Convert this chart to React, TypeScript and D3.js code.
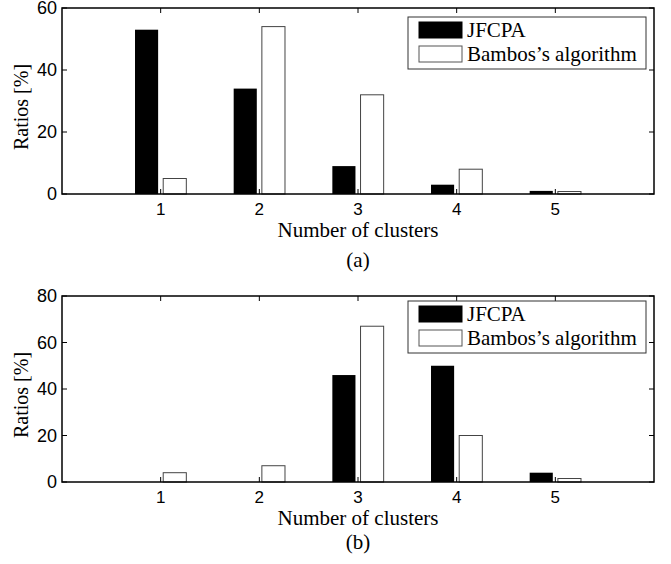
//@ts-nocheck
import { useEffect, useRef } from 'react';
import * as d3 from 'd3';

// data
const clusters = [1, 2, 3, 4, 5];
const seriesNames = ['JFCPA', "Bambos\u2019s algorithm"];
const jfcpaA = [53, 34, 9, 3, 1];
const bambosA = [5, 54, 32, 8, 0.8];
const jfcpaB = [0, 0, 46, 50, 4];
const bambosB = [4, 7, 67, 20, 1.5];
const yTicksA = [0, 20, 40, 60];
const yTicksB = [0, 20, 40, 60, 80];

const panels = [
    { top: 8, bottom: 194, yMax: 60, yTicks: yTicksA, values: [jfcpaA, bambosA], caption: '(a)', captionDy: 73, legendDy: 9 },
    { top: 296, bottom: 482, yMax: 80, yTicks: yTicksB, values: [jfcpaB, bambosB], caption: '(b)', captionDy: 67, legendDy: 5 },
];

const App = () => {
    const svgRef = useRef();

    useEffect(() => {
        const svg = d3.select(svgRef.current);
        svg.selectAll('*').remove();

        const left = 62;
        const right = 654;
        const sans = 'Liberation Sans, Arial, sans-serif';
        const serif = 'Liberation Serif, Times New Roman, serif';

        const x = d3.scaleLinear().domain([0, 6]).range([left, right]);
        const step = x(1) - x(0);
        // offsets of the two bars inside a group
        const sub = d3.scaleBand().domain(seriesNames).range([-0.26 * step, 0.26 * step]).paddingInner(0.18);
        const colors = ['#000', '#fff'];

        panels.forEach((p) => {
            const y = d3.scaleLinear().domain([0, p.yMax]).range([p.bottom, p.top]);
            const g = svg.append('g');

            // bars
            p.values.forEach((vals, si) => {
                g.selectAll(null)
                    .data(vals)
                    .enter()
                    .append('rect')
                    .attr('x', (d, i) => x(clusters[i]) + sub(seriesNames[si]))
                    .attr('y', (d) => y(d))
                    .attr('width', sub.bandwidth())
                    .attr('height', (d) => y(0) - y(d))
                    .attr('fill', colors[si])
                    .attr('stroke', si === 0 ? '#000' : '#444')
                    .attr('stroke-width', si === 0 ? 0 : 1);
            });

            // inward ticks on all four sides
            const tl = 5;
            clusters.forEach((c) => {
                g.append('line').attr('x1', x(c)).attr('x2', x(c)).attr('y1', p.bottom).attr('y2', p.bottom - tl).attr('stroke', '#000');
                g.append('line').attr('x1', x(c)).attr('x2', x(c)).attr('y1', p.top).attr('y2', p.top + tl).attr('stroke', '#000');
                g.append('text')
                    .attr('x', x(c))
                    .attr('y', p.bottom + 21)
                    .attr('text-anchor', 'middle')
                    .style('font-family', sans)
                    .style('font-size', '17px')
                    .text(c);
            });
            p.yTicks.forEach((t) => {
                g.append('line').attr('x1', left).attr('x2', left + tl).attr('y1', y(t)).attr('y2', y(t)).attr('stroke', '#000');
                g.append('line').attr('x1', right).attr('x2', right - tl).attr('y1', y(t)).attr('y2', y(t)).attr('stroke', '#000');
                g.append('text')
                    .attr('x', left - 5)
                    .attr('y', y(t))
                    .attr('dy', '0.36em')
                    .attr('text-anchor', 'end')
                    .style('font-family', sans)
                    .style('font-size', '18px')
                    .text(t);
            });

            // frame
            g.append('rect')
                .attr('x', left)
                .attr('y', p.top)
                .attr('width', right - left)
                .attr('height', p.bottom - p.top)
                .attr('fill', 'none')
                .attr('stroke', '#000')
                .attr('stroke-width', 1.5);

            // axis titles
            g.append('text')
                .attr('x', (left + right) / 2)
                .attr('y', p.bottom + 43)
                .attr('text-anchor', 'middle')
                .style('font-family', serif)
                .style('font-size', '21px')
                .text('Number of clusters');
            g.append('text')
                .attr('transform', `translate(28, ${(p.top + p.bottom) / 2 + 6}) rotate(-90)`)
                .attr('text-anchor', 'middle')
                .style('font-family', serif)
                .style('font-size', '20px')
                .text('Ratios [%]');
            g.append('text')
                .attr('x', (left + right) / 2)
                .attr('y', p.bottom + p.captionDy)
                .attr('text-anchor', 'middle')
                .style('font-family', serif)
                .style('font-size', '21px')
                .text(p.caption);

            // legend
            const lx = 408;
            const ly = p.top + p.legendDy;
            const legend = g.append('g').attr('transform', `translate(${lx}, ${ly})`);
            legend.append('rect')
                .attr('width', 238)
                .attr('height', 52)
                .attr('fill', '#fff')
                .attr('stroke', '#333')
                .attr('stroke-width', 1);
            seriesNames.forEach((name, i) => {
                legend.append('rect')
                    .attr('x', 11)
                    .attr('y', 5 + i * 24)
                    .attr('width', 43)
                    .attr('height', 16)
                    .attr('fill', colors[i])
                    .attr('stroke', i === 0 ? '#000' : '#555')
                    .attr('stroke-width', 1);
                legend.append('text')
                    .attr('x', 59)
                    .attr('y', 13 + i * 24)
                    .attr('dy', '0.35em')
                    .style('font-family', serif)
                    .style('font-size', '21px')
                    .text(name);
            });
        });
    }, []);

    return (
        <svg ref={svgRef} width={671} height={564} style={{ position: 'absolute', left: 0, top: 0, background: '#fff' }}></svg>
    );
};

export default App;
